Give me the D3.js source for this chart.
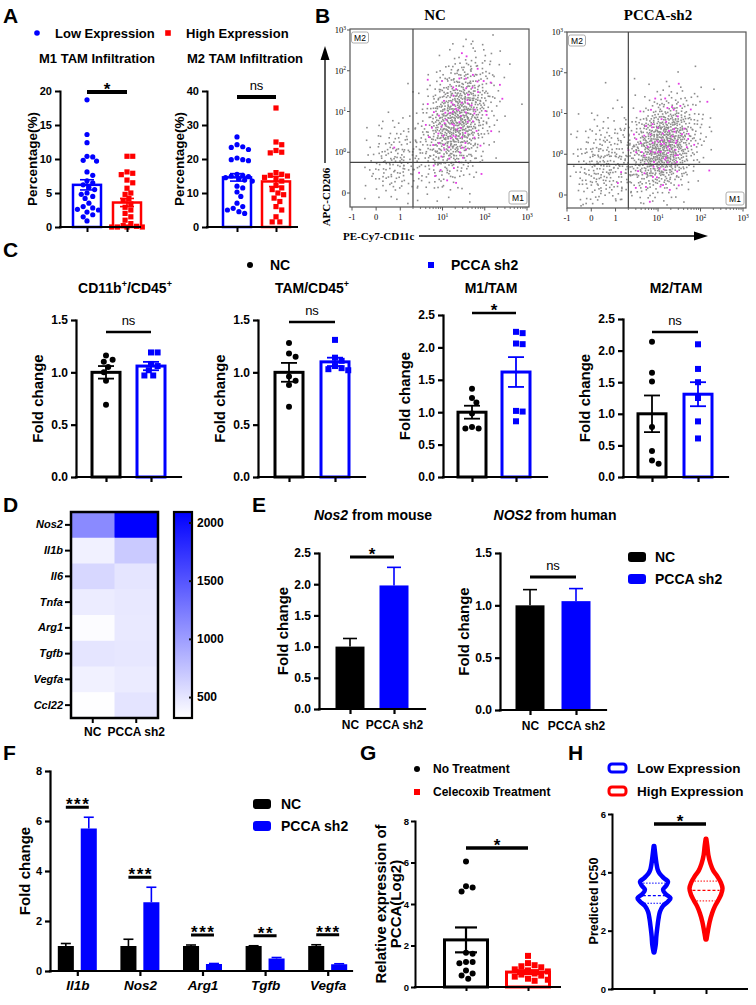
<!DOCTYPE html>
<html><head><meta charset="utf-8">
<script src="https://cdn.jsdelivr.net/npm/d3@7/dist/d3.min.js"></script>
<style>html,body{margin:0;padding:0;background:#fff;} svg{display:block;}</style>
</head><body><script>
// ================= DATA =================
const BLUE="#0000ff", RED="#ff0000", BLACK="#000000";

// Panel A
const aGroups=["Low Expression","High Expression"];
const aM1Low=[18.7,13.6,12.4,10.4,10.3,9.8,9.7,8.1,7.6,6.8,6.5,6.2,5.8,5.5,5.0,4.8,4.5,4.2,3.5,3.0,2.8,2.6,2.5,2.2,1.8,1.5,0.9];
const aM1High=[10.4,10.4,8.1,7.9,7.7,6.9,6.5,5.7,5.0,4.8,4.2,3.9,3.4,2.9,2.5,2.0,1.5,1.0,0.5,0.2,0.1,0.0,0.0,0.0,0.0];
const aM1Mean=[6.2,3.6], aM1Sem=[0.75,0.6];
const aM2Low=[26.5,24.2,23.6,23.4,22.8,20.3,19.8,19.8,19.5,15.5,15.2,15.0,14.8,14.5,14.2,13.8,13.5,12.0,11.5,10.3,9.0,7.0,6.0,5.5,5.0,4.5,4.0];
const aM2High=[35.0,25.0,24.2,22.5,22.0,21.8,16.0,15.5,15.2,15.0,14.6,14.0,13.5,12.2,11.5,11.0,10.0,9.5,8.5,7.5,6.0,5.0,3.0,1.5,1.5];
const aM2Mean=[14.6,13.4], aM2Sem=[1.1,1.5];
const aTitles=["M1 TAM Infiltration","M2 TAM Infiltration"];
const aTicks=[[0,5,10,15,20],[0,10,20,30,40]];
const aSig=["*","ns"];

// Panel B (flow cytometry density clouds)
const bSamples=["NC","PCCA-sh2"];
const bXTicks=[-1,0,1,10,100,1000];
const bYTicks=[0,1,10,100,1000];
const bCloudCx=[[22,0.8],[13,0.5]];
const bCloudCy=[[6.0,0.8],[1.6,0.75]];
const bCloudSx=[[0.74,0.62],[0.74,0.7]];
const bCloudSy=[[0.76,0.5],[0.6,0.6]];
const bCloudRho=[[0.35,0.1],[0.25,0.1]];
const bCloudN=[[950,160],[900,260]];
const bGateX=2, bGateY=0.75;

// Panel C
const cGroups=["NC","PCCA sh2"];
const cTitles=["CD11b+/CD45+","TAM/CD45+","M1/TAM","M2/TAM"];
const cNC=[[1.16,1.12,1.10,1.05,1.0,0.92,0.69],[1.28,1.18,1.15,0.96,0.92,0.88,0.67],[1.36,1.22,1.15,0.98,0.77,0.75,0.75],[2.14,1.65,1.51,0.79,0.41,0.26,0.21]];
const cPCCA=[[1.19,1.19,1.08,1.06,1.02,0.97,0.97],[1.31,1.14,1.11,1.06,1.04,1.03,1.02],[2.24,2.22,2.06,2.05,1.02,1.01,0.86],[2.10,1.71,1.50,1.25,0.88,0.61]];
const cMean=[[1.0,1.06],[1.0,1.10],[1.0,1.62],[1.0,1.31]];
const cSem=[[0.06,0.04],[0.09,0.04],[0.10,0.23],[0.29,0.19]];
const cMax=[1.5,1.5,2.5,2.5];
const cSig=["ns","ns","*","ns"];

// Panel D
const dGenes=["Nos2","Il1b","Il6","Tnfa","Arg1","Tgfb","Vegfa","Ccl22"];
const dCols=["NC","PCCA sh2"];
const dNC=[1130,420,600,450,340,500,420,330];
const dPCCA=[2090,690,500,480,470,490,460,510];
const dTicks=[500,1000,1500,2000];
const dRange=[320,2090];

// Panel E
const eGroups=["NC","PCCA sh2"];
const eTitleIt=["Nos2","NOS2"], eTitleRest=[" from mouse"," from human"];
const eMean=[[1.0,1.98],[1.0,1.04]];
const eSem=[[0.13,0.29],[0.15,0.12]];
const eMax=[2.5,1.5];
const eSig=["*","ns"];

// Panel F
const fGenes=["Il1b","Nos2","Arg1","Tgfb","Vegfa"];
const fNC=[1.0,1.0,1.0,1.0,1.0], fNCSem=[0.10,0.27,0.04,0.01,0.05];
const fPCCA=[5.7,2.75,0.28,0.50,0.27], fPCCASem=[0.45,0.60,0.02,0.04,0.02];
const fSig=["***","***","***","**","***"];
const fTicks=[0,2,4,6,8];

// Panel G
const gGroups=["No Treatment","Celecoxib Treatment"];
const gNoTreat=[6.05,4.85,4.8,4.6,1.65,1.6,1.2,1.2,1.15,0.8,0.65,0.55,0.4];
const gCelecoxib=[1.5,1.15,1.05,1.0,0.95,0.85,0.8,0.75,0.65,0.6,0.55,0.5,0.4,0.35,0.3];
const gMean=[2.27,0.72], gSem=[0.6,0.09];
const gTicks=[0,2,4,6,8];

// Panel H
const hGroups=["Low Expression","High Expression"];
const hLowLevels=[1.25,1.5,1.8,2.1,2.4,2.65,2.85,3.0,3.12,3.25,3.4,3.55,3.68,3.8,3.95,4.1,4.3,4.6,4.9];
const hLowDens=[0.02,0.1,0.14,0.2,0.27,0.36,0.55,0.85,1.0,0.72,0.55,0.75,0.85,0.6,0.35,0.22,0.15,0.08,0.02];
const hHighLevels=[1.7,2.0,2.3,2.6,2.85,3.05,3.25,3.45,3.65,3.85,4.05,4.3,4.6,4.9,5.15];
const hHighDens=[0.03,0.12,0.22,0.37,0.55,0.75,0.92,1.0,0.9,0.7,0.45,0.27,0.14,0.08,0.02];
const hMedian=[3.2,3.38], hQ1=[2.94,3.02], hQ3=[3.63,3.7];
const hTicks=[0,2,4,6];

// ================= DRAWING =================
const FONT='"Liberation Sans", Arial, Helvetica, sans-serif';
const SERIF='"Liberation Serif", "Times New Roman", serif';
const svg=d3.select("body").append("svg").attr("width",756).attr("height",1005).attr("font-family",FONT);
svg.append("rect").attr("width",756).attr("height",1005).attr("fill","#fff");

function T(g,x,y,s,o={}){
  return g.append("text").attr("x",x).attr("y",y).text(s)
    .attr("font-family",o.family||FONT).attr("font-size",o.size||12)
    .attr("font-weight",o.weight||"bold").attr("font-style",o.style||"normal")
    .attr("text-anchor",o.anchor||"start").attr("fill",o.fill||"#000");
}
function RT(g,x,y,s,o={}){
  return T(g,0,0,s,Object.assign({},o,{anchor:"middle"})).attr("transform",`translate(${x},${y}) rotate(-90)`);
}
function yAxis(g,y,x,ticks,fmt,o){
  const a=g.append("g").attr("transform",`translate(${x},0)`)
    .call(d3.axisLeft(y).tickValues(ticks).tickFormat(fmt).tickSize(o.tick).tickSizeOuter(0).tickPadding(o.pad==null?3:o.pad));
  a.attr("font-family",FONT).attr("font-size",o.font).attr("font-weight","bold");
  a.select(".domain").attr("stroke","#000").attr("stroke-width",o.w).attr("stroke-linecap","square");
  a.selectAll(".tick line").attr("stroke","#000").attr("stroke-width",o.w);
  a.selectAll(".tick text").attr("fill","#000");
  return a;
}
function xAxis(g,x,y0,x1,x2,o){
  g.append("line").attr("x1",x1).attr("x2",x2).attr("y1",y0).attr("y2",y0)
    .attr("stroke","#000").attr("stroke-width",o.w).attr("stroke-linecap","square");
  const a=g.append("g").attr("transform",`translate(0,${y0})`)
    .call(d3.axisBottom(x).tickSize(o.tick).tickSizeOuter(0).tickFormat(o.fmt||(()=>"")).tickPadding(o.pad==null?3:o.pad));
  a.select(".domain").remove();
  a.attr("font-family",FONT).attr("font-size",o.font||12).attr("font-weight","bold");
  a.selectAll(".tick line").attr("stroke","#000").attr("stroke-width",o.w);
  a.selectAll(".tick text").attr("fill","#000").attr("font-style",o.italic?"italic":"normal");
  return a;
}
function sig(g,x1,x2,y,label,w){
  g.append("line").attr("x1",x1).attr("x2",x2).attr("y1",y).attr("y2",y).attr("stroke","#000").attr("stroke-width",w);
  if(label==="ns") T(g,(x1+x2)/2,y-7,label,{size:13,weight:"normal",anchor:"middle"});
  else T(g,(x1+x2)/2+(label.length>1?0.8:0),y+3,label,{size:17,anchor:"middle"}).attr("letter-spacing",label.length>1?"1.5px":null);
}
function swarm(vals,y,r,maxOff){
  const order=vals.map((v,i)=>i).sort((a,b)=>vals[b]-vals[a]);
  const placed=[], off=vals.map(()=>0), d=2*r;
  order.forEach(i=>{
    const py=y(vals[i]); let best=0,bestScore=-1;
    for(let k=0;k<60;k++){
      const c=(k===0?0:(k%2?1:-1)*Math.ceil(k/2)*r*0.7);
      if(Math.abs(c)>maxOff) continue;
      let mind=Infinity; placed.forEach(p=>{mind=Math.min(mind,Math.hypot(p.x-c,p.y-py));});
      if(mind>=d){best=c;bestScore=Infinity;break;}
      if(mind>bestScore){bestScore=mind;best=c;}
    }
    off[i]=best; placed.push({x:best,y:py});
  });
  return off;
}
function marker(g,shape,x,y,r,color){
  if(shape==="circle") g.append("circle").attr("cx",x).attr("cy",y).attr("r",r).attr("fill",color);
  else g.append("rect").attr("x",x-r).attr("y",y-r).attr("width",2*r).attr("height",2*r).attr("fill",color);
}
function dotBar(g,o){
  const y=d3.scaleLinear().domain([0,o.max]).range([o.y0,o.yTop]);
  const x=d3.scalePoint().domain(o.groups).range(o.centers);
  o.series.forEach((s,i)=>{
    const cx=x(o.groups[i]);
    g.append("rect").attr("x",cx-o.barW/2).attr("y",y(s.mean)).attr("width",o.barW).attr("height",y(0)-y(s.mean))
      .attr("fill","#fff").attr("stroke",s.color).attr("stroke-width",o.barStroke);
  });
  o.series.forEach((s,i)=>{
    const cx=x(o.groups[i]);
    const off=swarm(s.vals,y,o.r*1.05,o.barW/2+2);
    s.vals.forEach((v,j)=>marker(g,s.shape,cx+off[j],y(v),o.r,s.color));
    const e=g.append("g").attr("stroke",s.color).attr("stroke-width",o.errW);
    e.append("line").attr("x1",cx).attr("x2",cx).attr("y1",y(s.mean-s.sem)).attr("y2",y(s.mean+s.sem));
    [s.mean-s.sem,s.mean+s.sem].forEach(v=>e.append("line").attr("x1",cx-o.capW/2).attr("x2",cx+o.capW/2).attr("y1",y(v)).attr("y2",y(v)));
  });
  yAxis(g,y,o.axisX,o.ticks,o.fmt,{tick:o.tick,font:o.tickFont,w:o.axisW,pad:o.pad});
  xAxis(g,x,y(0),o.axisX,o.axisEnd,{tick:o.tick,w:o.axisW});
  return {x,y};
}

// panel letters
[["A",3,23],["B",315,23],["C",3,257],["D",3,512],["E",252,512],["F",3,760],["G",360,760],["H",568,760]]
  .forEach(([l,x,y])=>T(svg,x,y,l,{size:21}));

// ---------- Panel A ----------
{
  const g=svg.append("g");
  marker(g,"circle",37,33,2.8,BLUE); T(g,55,38,aGroups[0],{size:13});
  marker(g,"square",168,33,2.8,RED); T(g,186,38,aGroups[1],{size:13});
  const lay=[{axisX:60,end:140,centers:[87,127],tx:97,ylx:37},{axisX:207,end:297,centers:[237,276],tx:245,ylx:184}];
  const data=[[aM1Low,aM1High,aM1Mean,aM1Sem],[aM2Low,aM2High,aM2Mean,aM2Sem]];
  lay.forEach((L,k)=>{
    const [lo,hi,mn,se]=data[k];
    T(g,L.tx,63,aTitles[k],{size:13,anchor:"middle"});
    dotBar(g,{groups:aGroups,max:aTicks[k][4],y0:227,yTop:91,centers:L.centers,axisX:L.axisX,axisEnd:L.end,
      ticks:aTicks[k],fmt:d3.format("d"),tick:5,tickFont:11,axisW:2,barW:28,barStroke:2.5,r:2.6,errW:1.6,capW:14,
      series:[{vals:lo,mean:mn[0],sem:se[0],color:BLUE,shape:"circle"},{vals:hi,mean:mn[1],sem:se[1],color:RED,shape:"square"}]});
    RT(g,L.ylx,(227+91)/2,"Percentage(%)",{size:13.5});
    sig(g,L.centers[0],L.centers[1],k===0?92:97,aSig[k],4);
  });
}

// ---------- Panel B ----------
const bfx=v=>Math.abs(v)<=1?v:Math.sign(v)*(1+1.75*Math.log10(Math.abs(v)));
const bfy=v=>v<=1?v:1+Math.log10(v);
function halton(i,b){let f=1,r=0;while(i>0){f/=b;r+=f*(i%b);i=Math.floor(i/b);}return r;}
function supLabel(sel,v,powOne){
  if(v===0||(v===1&&!powOne)||v===-1){sel.text(String(v));return;}
  sel.append("tspan").text("10");
  sel.append("tspan").text(String(Math.round(Math.log10(v)))).attr("font-size",5.5).attr("dy",-3.5);
}
function flowPlot(k,L){
  const g=svg.append("g");
  const xs=d3.scaleLinear().domain([bfx(-1),bfx(1000)]).range(L.xr);
  const ys=d3.scaleLinear().domain([bfy(0),bfy(1000)]).range(L.yr);
  const [bl,bt,br,bb]=L.box;
  T(g,L.title,20,bSamples[k],{size:15,family:SERIF,anchor:"middle"});
  g.append("rect").attr("x",bl).attr("y",bt).attr("width",br-bl).attr("height",bb-bt).attr("fill","#fff").attr("stroke","#555").attr("stroke-width",1.2);
  const gray=[],mag=[];
  bCloudN[k].forEach((n,c)=>{
    const cx=bfx(bCloudCx[k][c]), cy=bfy(bCloudCy[k][c]), sx=bCloudSx[k][c], sy=bCloudSy[k][c], rho=bCloudRho[k][c];
    for(let i=1;i<=n;i++){
      const idx=i+c*3000+k*700;
      const u1=halton(idx,2), u2=halton(idx,3);
      const rr=Math.sqrt(-2*Math.log(u1)), th=2*Math.PI*u2;
      const z1=rr*Math.cos(th), z2=rr*Math.sin(th);
      const px=xs(cx+sx*z1), py=ys(cy+sy*(rho*z1+Math.sqrt(1-rho*rho)*z2));
      if(px<bl+2||px>br-2||py<bt+2||py>bb-2) continue;
      (c===0&&i%11===3?mag:gray).push([px,py]);
    }
  });
  g.selectAll(null).data(gray).join("rect").attr("x",d=>d[0]-0.8).attr("y",d=>d[1]-0.8).attr("width",1.6).attr("height",1.6).attr("fill","#8c8c8c");
  g.selectAll(null).data(mag).join("rect").attr("x",d=>d[0]-0.9).attr("y",d=>d[1]-0.9).attr("width",1.8).attr("height",1.8).attr("fill","#e53be5");
  const gx=xs(bfx(bGateX)), gy=ys(bfy(bGateY));
  g.append("line").attr("x1",gx).attr("x2",gx).attr("y1",bt).attr("y2",bb).attr("stroke","#444").attr("stroke-width",1.2);
  g.append("line").attr("x1",bl).attr("x2",br).attr("y1",gy).attr("y2",gy).attr("stroke","#444").attr("stroke-width",1.2);
  g.append("rect").attr("x",bl+1.5).attr("y",bt+3).attr("width",17).attr("height",11).attr("rx",2).attr("fill","#fff").attr("stroke","#999").attr("stroke-width",0.8);
  T(g,bl+10,bt+11.5,"M2",{size:8.5,weight:"normal",anchor:"middle"});
  g.append("rect").attr("x",br-20).attr("y",bb-16).attr("width",18).attr("height",13).attr("rx",2).attr("fill","#fff").attr("stroke","#999").attr("stroke-width",0.8);
  T(g,br-11,bb-6.5,"M1",{size:8.5,weight:"normal",anchor:"middle"});
  bYTicks.forEach(v=>{
    const py=ys(bfy(v));
    g.append("line").attr("x1",bl-3).attr("x2",bl).attr("y1",py).attr("y2",py).attr("stroke","#555");
    const t=T(g,bl-4,py+3,"",{size:8.5,weight:"normal",family:SERIF,anchor:"end"});
    supLabel(t,v,true);
  });
  bXTicks.forEach(v=>{
    const px=xs(bfx(v));
    g.append("line").attr("x1",px).attr("x2",px).attr("y1",bb).attr("y2",bb+3.5).attr("stroke","#555");
    const t=T(g,px,bb+13,"",{size:8.5,weight:"normal",family:SERIF,anchor:"middle"});
    supLabel(t,v,false);
  });
  [1,10,100].forEach(dec=>d3.range(2,10).forEach(m=>{
    const px=xs(bfx(m*dec));
    g.append("line").attr("x1",px).attr("x2",px).attr("y1",bb).attr("y2",bb+2).attr("stroke","#555").attr("stroke-width",0.8);
  }));
}
flowPlot(0,{box:[350,29,529,207],xr:[352,527],yr:[193,30],title:435});
flowPlot(1,{box:[567,32,746,208],xr:[567,743],yr:[195,32],title:658});
{
  const g=svg.append("g");
  g.append("line").attr("x1",325).attr("x2",325).attr("y1",58).attr("y2",163).attr("stroke","#000").attr("stroke-width",1.3);
  g.append("path").attr("d","M325,46 L320.5,60 L329.5,60 Z").attr("fill","#000");
  RT(g,330,197,"APC-CD206",{size:11,family:SERIF});
  T(g,343,240,"PE-Cy7-CD11c",{size:11,family:SERIF});
  g.append("line").attr("x1",419).attr("x2",696).attr("y1",236).attr("y2",236).attr("stroke","#000").attr("stroke-width",1.3);
  g.append("path").attr("d","M708,236 L694,231.5 L694,240.5 Z").attr("fill","#000");
}

// ---------- Panel C ----------
{
  const g=svg.append("g");
  marker(g,"circle",250,265,3,BLACK); T(g,270,270,cGroups[0],{size:14});
  marker(g,"square",431,265,3,BLUE); T(g,451,270,cGroups[1],{size:14});
  const axisX=[76,258,443,623], axisEnd=[181,365,547,728], centers=[[106,151],[289,335],[472,516],[652,698]];
  const tops=[320,320,315,319], sigY=[332,322,313,332], titleX=[125,312,491,676];
  cTitles.forEach((title,k)=>{
    const t=T(g,titleX[k],293,"",{size:14,anchor:"middle"});
    let up=false;
    title.split(/(\+)/).forEach(p=>{ if(!p) return;
      if(p==="+"){t.append("tspan").text("+").attr("font-size",9).attr("dy",-6);up=true;}
      else {t.append("tspan").text(p).attr("dy",up?6:0);up=false;}
    });
    dotBar(g,{groups:cGroups,max:cMax[k],y0:477,yTop:tops[k],centers:centers[k],axisX:axisX[k],axisEnd:axisEnd[k],
      ticks:d3.range(0,cMax[k]+0.01,0.5),fmt:d3.format(".1f"),tick:5,tickFont:12,axisW:2.2,barW:28,barStroke:3,r:3,errW:1.8,capW:16,
      series:[{vals:cNC[k],mean:cMean[k][0],sem:cSem[k][0],color:BLACK,shape:"circle"},{vals:cPCCA[k],mean:cMean[k][1],sem:cSem[k][1],color:BLUE,shape:"square"}]});
    RT(g,axisX[k]-33,(477+tops[k])/2,"Fold change",{size:15});
    sig(g,centers[k][0],centers[k][1],sigY[k],cSig[k],2.6);
  });
}

// ---------- Panel D ----------
{
  const g=svg.append("g");
  const x=d3.scaleBand().domain(dCols).range([71,158]);
  const y=d3.scaleBand().domain(dGenes).range([512,718]);
  const color=d3.scaleLinear().domain(dRange).range(["#ffffff","#0000ff"]);
  dGenes.forEach((gene,i)=>{
    [dNC[i],dPCCA[i]].forEach((v,j)=>{
      g.append("rect").attr("x",x(dCols[j])).attr("y",y(gene)).attr("width",x.bandwidth()+0.5).attr("height",y.bandwidth()+0.5).attr("fill",color(v));
    });
  });
  g.append("rect").attr("x",71).attr("y",512).attr("width",87).attr("height",206).attr("fill","none").attr("stroke","#000").attr("stroke-width",2.5);
  const ya=g.append("g").attr("transform","translate(70,0)").call(d3.axisLeft(y).tickSize(5).tickPadding(2));
  ya.select(".domain").remove();
  ya.attr("font-family",FONT).attr("font-size",11).attr("font-weight","bold").attr("font-style","italic");
  ya.selectAll(".tick line").attr("stroke","#000").attr("stroke-width",2);
  ya.selectAll(".tick text").attr("fill","#000");
  const xa=g.append("g").attr("transform","translate(0,719)").call(d3.axisBottom(x).tickSize(4).tickPadding(4));
  xa.select(".domain").remove();
  xa.attr("font-family",FONT).attr("font-size",12).attr("font-weight","bold");
  xa.selectAll(".tick line").attr("stroke","#000").attr("stroke-width",2);
  xa.selectAll(".tick text").attr("fill","#000");
  const defs=svg.append("defs");
  const grad=defs.append("linearGradient").attr("id","cbar").attr("x1",0).attr("y1",1).attr("x2",0).attr("y2",0);
  d3.range(0,1.001,0.1).forEach(t=>grad.append("stop").attr("offset",t).attr("stop-color",color(dRange[0]+t*(dRange[1]-dRange[0]))));
  const cy=d3.scaleLinear().domain(dRange).range([718,512]);
  g.append("rect").attr("x",174).attr("y",512).attr("width",18).attr("height",206).attr("fill","url(#cbar)").attr("stroke","#000").attr("stroke-width",2.2);
  const ca=g.append("g").attr("transform","translate(192,0)").call(d3.axisRight(cy).tickValues(dTicks).tickFormat(d3.format("d")).tickSize(-3).tickPadding(5));
  ca.select(".domain").remove();
  ca.attr("font-family",FONT).attr("font-size",12).attr("font-weight","bold");
  ca.selectAll(".tick line").attr("stroke","#111").attr("stroke-width",2);
  ca.selectAll(".tick text").attr("fill","#000");
}

// ---------- Panel E ----------
{
  const g=svg.append("g");
  const lay=[{axisX:319,end:425,centers:[350,394],y0:709,yTop:553,tx:373,sigY:557},{axisX:500,end:606,centers:[530,576],y0:710,yTop:553,tx:555,sigY:577}];
  lay.forEach((L,k)=>{
    const t=T(g,L.tx,520,"",{size:14,anchor:"middle"});
    t.append("tspan").text(eTitleIt[k]).attr("font-style","italic");
    t.append("tspan").text(eTitleRest[k]);
    const y=d3.scaleLinear().domain([0,eMax[k]]).range([L.y0,L.yTop]);
    const x=d3.scalePoint().domain(eGroups).range(L.centers);
    const cols=[BLACK,BLUE];
    eGroups.forEach((grp,i)=>{
      const cx=x(grp), m=eMean[k][i], s=eSem[k][i];
      g.append("line").attr("x1",cx).attr("x2",cx).attr("y1",y(m)).attr("y2",y(m+s)).attr("stroke",cols[i]).attr("stroke-width",1.6);
      g.append("line").attr("x1",cx-7).attr("x2",cx+7).attr("y1",y(m+s)).attr("y2",y(m+s)).attr("stroke",cols[i]).attr("stroke-width",1.6);
      g.append("rect").attr("x",cx-14.5).attr("y",y(m)).attr("width",29).attr("height",y(0)-y(m)).attr("fill",cols[i]);
    });
    yAxis(g,y,L.axisX,d3.range(0,eMax[k]+0.01,0.5),d3.format(".1f"),{tick:5,font:12,w:2.2});
    xAxis(g,x,y(0),L.axisX,L.end,{tick:5,w:2.2,fmt:d=>d,font:12,pad:6});
    RT(g,L.axisX-31,(L.y0+L.yTop)/2,"Fold change",{size:15});
    sig(g,L.centers[0],L.centers[1],L.sigY,eSig[k],3);
  });
  g.append("rect").attr("x",628).attr("y",552).attr("width",18).attr("height",10).attr("rx",3).attr("fill",BLACK);
  T(g,655,562,eGroups[0],{size:14});
  g.append("rect").attr("x",628).attr("y",574).attr("width",18).attr("height",10).attr("rx",3).attr("fill",BLUE);
  T(g,655,584,eGroups[1],{size:14});
}

// ---------- Panel F ----------
{
  const g=svg.append("g");
  const y=d3.scaleLinear().domain([0,8]).range([971,771]);
  const x=d3.scaleBand().domain(fGenes).range([46,359]);
  const xi=d3.scaleBand().domain(["NC","PCCA sh2"]).range([-19.5,19.5]).paddingInner(0.3);
  fGenes.forEach((gene,i)=>{
    const c=x(gene)+x.bandwidth()/2;
    [[fNC[i],fNCSem[i],BLACK,"NC"],[fPCCA[i],fPCCASem[i],BLUE,"PCCA sh2"]].forEach(([m,s,col,grp])=>{
      const bx=c+xi(grp), bw=xi.bandwidth(), cx=bx+bw/2;
      g.append("line").attr("x1",cx).attr("x2",cx).attr("y1",y(m)).attr("y2",y(m+s)).attr("stroke",col).attr("stroke-width",1.6);
      g.append("line").attr("x1",cx-5).attr("x2",cx+5).attr("y1",y(m+s)).attr("y2",y(m+s)).attr("stroke",col).attr("stroke-width",1.6);
      g.append("rect").attr("x",bx).attr("y",y(m)).attr("width",bw).attr("height",y(0)-y(m)).attr("fill",col);
    });
    const top=Math.max(fNC[i]+fNCSem[i],fPCCA[i]+fPCCASem[i]);
    sig(g,c+xi("NC")+xi.bandwidth()/2,c+xi("PCCA sh2")+xi.bandwidth()/2,y(top)-10,fSig[i],3);
  });
  yAxis(g,y,50,fTicks,d3.format("d"),{tick:5,font:11,w:2.2});
  const xc=d3.scalePoint().domain(fGenes).range([x(fGenes[0])+x.bandwidth()/2,x(fGenes[4])+x.bandwidth()/2]);
  xAxis(g,xc,y(0),50,352,{tick:5,w:2.2,fmt:d=>d,font:13.5,italic:true,pad:4});
  RT(g,30,871,"Fold change",{size:15});
  g.append("rect").attr("x",253).attr("y",799).attr("width",18).attr("height",10).attr("rx",3).attr("fill",BLACK);
  T(g,281,809,"NC",{size:14});
  g.append("rect").attr("x",253).attr("y",821).attr("width",18).attr("height",10).attr("rx",3).attr("fill",BLUE);
  T(g,281,831,"PCCA sh2",{size:14});
}

// ---------- Panel G ----------
{
  const g=svg.append("g");
  marker(g,"circle",417,769,3,BLACK); T(g,433,773,gGroups[0],{size:12});
  marker(g,"square",417,792,3,RED); T(g,433,796,gGroups[1],{size:12});
  dotBar(g,{groups:gGroups,max:8,y0:987,yTop:821,centers:[466,528],axisX:415,axisEnd:560,
    ticks:gTicks,fmt:d3.format("d"),tick:4,tickFont:9.5,axisW:2,barW:43,barStroke:3,r:3,errW:2.2,capW:22,pad:2,
    series:[{vals:gNoTreat,mean:gMean[0],sem:gSem[0],color:BLACK,shape:"circle"},{vals:gCelecoxib,mean:gMean[1],sem:gSem[1],color:RED,shape:"square"}]});
  RT(g,386,904,"Relative expression of",{size:15});
  RT(g,401,904,"PCCA(Log2)",{size:15});
  sig(g,466,528,848,"*",3.5);
}

// ---------- Panel H ----------
{
  const g=svg.append("g");
  g.append("rect").attr("x",609).attr("y",764).attr("width",17).attr("height",8).attr("rx",3).attr("fill","#fff").attr("stroke",BLUE).attr("stroke-width",3);
  T(g,637,773,hGroups[0],{size:13.5});
  g.append("rect").attr("x",609).attr("y",787).attr("width",17).attr("height",8).attr("rx",3).attr("fill","#fff").attr("stroke",RED).attr("stroke-width",3);
  T(g,637,796,hGroups[1],{size:13.5});
  const y=d3.scaleLinear().domain([0,6]).range([989,814]);
  const x=d3.scalePoint().domain(hGroups).range([654,706]);
  const w=d3.scaleLinear().domain([0,1]).range([0,16.5]);
  const sets=[[hLowLevels,hLowDens,BLUE],[hHighLevels,hHighDens,RED]];
  sets.forEach(([lv,dn,col],i)=>{
    const cx=x(hGroups[i]);
    const pts=lv.map((v,j)=>[v,dn[j]]);
    const area=d3.area().y(d=>y(d[0])).x0(d=>cx-w(d[1])).x1(d=>cx+w(d[1])).curve(d3.curveCatmullRom);
    g.append("path").attr("d",area(pts)).attr("fill","#fff").attr("stroke",col).attr("stroke-width",4.5).attr("stroke-linejoin","round");
    const dens=d3.scaleLinear().domain(lv).range(dn);
    [[hQ1[i],"1.5,1.5",1],[hMedian[i],"3,2",1.3],[hQ3[i],"1.5,1.5",1]].forEach(([q,dash,sw])=>{
      const hw=Math.max(w(dens(q))-2.5,2);
      g.append("line").attr("x1",cx-hw).attr("x2",cx+hw).attr("y1",y(q)).attr("y2",y(q)).attr("stroke",col).attr("stroke-width",sw).attr("stroke-dasharray",dash);
    });
  });
  yAxis(g,y,612,hTicks,d3.format("d"),{tick:4,font:9.5,w:2,pad:2});
  xAxis(g,x,y(0),612,747,{tick:5,w:2});
  RT(g,598,901,"Predicted IC50",{size:12.5});
  sig(g,654,706,824,"*",3.5);
}
</script></body></html>
